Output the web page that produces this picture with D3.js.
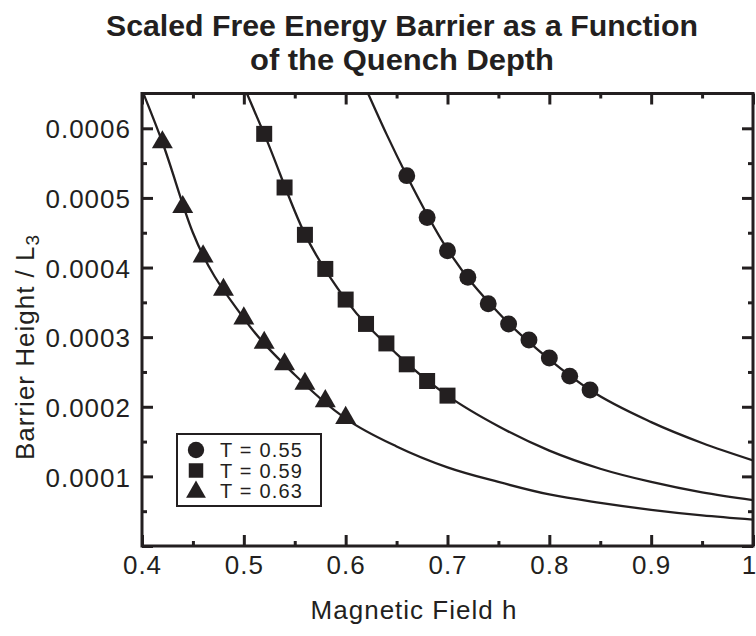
<!DOCTYPE html>
<html>
<head>
<meta charset="utf-8">
<script src="https://cdn.jsdelivr.net/npm/d3@7"></script>
<style>
  html, body { margin: 0; padding: 0; background: #ffffff; }
  svg { display: block; }
</style>
</head>
<body>
<div id="chart"></div>
<script>
// ---------------- data ----------------
const titleLines = ["Scaled Free Energy Barrier as a Function", "of the Quench Depth"];
const xLabel = "Magnetic Field h";
const yLabelMain = "Barrier Height / L";
const yLabelSub = "3";

const seriesNames = ["T = 0.55", "T = 0.59", "T = 0.63"];

// measured points
const hT055 = [0.66, 0.68, 0.70, 0.72, 0.74, 0.76, 0.78, 0.80, 0.82, 0.84];
const bT055 = [0.000532, 0.000472, 0.000424, 0.000386, 0.000348, 0.000319, 0.000296, 0.000270, 0.000244, 0.000224];

const hT059 = [0.52, 0.54, 0.56, 0.58, 0.60, 0.62, 0.64, 0.66, 0.68, 0.70];
const bT059 = [0.000592, 0.000515, 0.000447, 0.000398, 0.000354, 0.000319, 0.000291, 0.000261, 0.000237, 0.000216];

const hT063 = [0.42, 0.44, 0.46, 0.48, 0.50, 0.52, 0.54, 0.56, 0.58, 0.60];
const bT063 = [0.000580, 0.000487, 0.000416, 0.000368, 0.000327, 0.000292, 0.000261, 0.000233, 0.000208, 0.000184];

// fitted curves
const fitH055 = [0.622, 0.64, 0.66, 0.70, 0.75, 0.80, 0.84, 0.90, 0.95, 1.0];
const fitB055 = [0.00065, 0.000592, 0.000532, 0.000426, 0.000335, 0.000268, 0.000224, 0.000178, 0.000148, 0.000123];

const fitH059 = [0.503, 0.52, 0.56, 0.60, 0.65, 0.70, 0.75, 0.80, 0.85, 0.90, 0.95, 1.0];
const fitB059 = [0.00065, 0.000592, 0.000448, 0.000354, 0.000276, 0.000216, 0.000172, 0.000137, 0.000111, 0.000092, 0.000077, 0.000066];

const fitH063 = [0.40, 0.42, 0.45, 0.50, 0.55, 0.60, 0.65, 0.70, 0.75, 0.80, 0.85, 0.90, 0.95, 1.0];
const fitB063 = [0.000655, 0.000580, 0.000450, 0.000327, 0.000246, 0.000183, 0.000143, 0.000113, 0.000092, 0.000074, 0.000062, 0.000052, 0.000044, 0.000038];

// axis ticks
const xMajor = [0.4, 0.5, 0.6, 0.7, 0.8, 0.9, 1.0];
const xMinor = [0.45, 0.55, 0.65, 0.75, 0.85, 0.95];
const yMajor = [0, 0.0001, 0.0002, 0.0003, 0.0004, 0.0005, 0.0006];
const yMinor = [0.00005, 0.00015, 0.00025, 0.00035, 0.00045, 0.00055];
const yTickLabels = ["", "0.0001", "0.0002", "0.0003", "0.0004", "0.0005", "0.0006"];
const xTickLabels = ["0.4", "0.5", "0.6", "0.7", "0.8", "0.9", "1"];

// ---------------- layout ----------------
const W = 756, H = 636;
const INK = "#231f20";
const pL = 142, pR = 753, pT = 93.5, pB = 546;
const FONT = "'Liberation Sans', Arial, Helvetica, sans-serif";

const x = d3.scaleLinear().domain([0.4, 1.0]).range([pL, pR]);
const y = d3.scaleLinear().domain([0, 0.00065]).range([pB, pT]);

const svg = d3.select("#chart").append("svg")
  .attr("width", W).attr("height", H)
  .attr("viewBox", `0 0 ${W} ${H}`);

// title
const titleG = svg.append("g")
  .attr("font-family", "'Liberation Sans Narrow', 'Liberation Sans', Arial, sans-serif")
  .attr("font-weight", "bold")
  .attr("font-size", 29)
  .attr("fill", INK)
  .attr("text-anchor", "middle");
const titleY = [36, 70];
const titleW = [592, 304];
titleLines.forEach((t, i) => {
  titleG.append("text")
    .attr("x", 402).attr("y", titleY[i])
    .attr("textLength", titleW[i])
    .attr("lengthAdjust", "spacingAndGlyphs")
    .text(t);
});

// clip
svg.append("defs").append("clipPath").attr("id", "plotclip")
  .append("rect").attr("x", pL).attr("y", pT)
  .attr("width", pR - pL).attr("height", pB - pT);

// axes helpers
function styleAxis(g) {
  g.select(".domain").remove();
  g.selectAll(".tick line").attr("stroke", INK).attr("stroke-width", 3);
  g.selectAll("text").attr("font-family", FONT).attr("font-size", 26)
    .attr("fill", INK).attr("letter-spacing", "1px");
}

// bottom major
const xAx = svg.append("g").attr("transform", `translate(0,${pB})`)
  .call(d3.axisBottom(x).tickValues(xMajor).tickSize(-11).tickPadding(10)
        .tickFormat((d, i) => xTickLabels[i]))
  .call(styleAxis);
xAx.selectAll(".tick text").filter(d => d === 1.0).attr("dx", -4);
// bottom minor
svg.append("g").attr("transform", `translate(0,${pB})`)
  .call(d3.axisBottom(x).tickValues(xMinor).tickSize(-5).tickFormat(""))
  .call(styleAxis);
// top
svg.append("g").attr("transform", `translate(0,${pT})`)
  .call(d3.axisTop(x).tickValues(xMajor).tickSize(-11).tickFormat(""))
  .call(styleAxis);
svg.append("g").attr("transform", `translate(0,${pT})`)
  .call(d3.axisTop(x).tickValues(xMinor).tickSize(-5).tickFormat(""))
  .call(styleAxis);
// left
const yAx = svg.append("g").attr("transform", `translate(${pL},0)`)
  .call(d3.axisLeft(y).tickValues(yMajor).tickSize(-11).tickPadding(11)
        .tickFormat((d, i) => yTickLabels[i]))
  .call(styleAxis);
yAx.selectAll("text").attr("dy", "0.37em");
svg.append("g").attr("transform", `translate(${pL},0)`)
  .call(d3.axisLeft(y).tickValues(yMinor).tickSize(-5).tickFormat(""))
  .call(styleAxis);
// right
svg.append("g").attr("transform", `translate(${pR},0)`)
  .call(d3.axisRight(y).tickValues(yMajor).tickSize(-11).tickFormat(""))
  .call(styleAxis);
svg.append("g").attr("transform", `translate(${pR},0)`)
  .call(d3.axisRight(y).tickValues(yMinor).tickSize(-5).tickFormat(""))
  .call(styleAxis);

// frame
svg.append("rect")
  .attr("x", pL).attr("y", pT)
  .attr("width", pR - pL).attr("height", pB - pT)
  .attr("fill", "none").attr("stroke", INK).attr("stroke-width", 3);

// axis titles
svg.append("text")
  .attr("x", 414).attr("y", 619)
  .attr("text-anchor", "middle")
  .attr("font-family", FONT).attr("font-size", 26).attr("letter-spacing", "1px")
  .attr("fill", INK)
  .text(xLabel);

const yl = svg.append("text")
  .attr("transform", "translate(34,460) rotate(-90)")
  .attr("text-anchor", "start")
  .attr("font-family", FONT).attr("font-size", 26).attr("letter-spacing", "1px")
  .attr("fill", INK);
yl.append("tspan").text(yLabelMain);
yl.append("tspan").attr("font-size", 19).attr("dy", 5).text(yLabelSub);

// curves
const line = d3.line()
  .x(d => x(d[0])).y(d => y(d[1]))
  .curve(d3.curveMonotoneX);
const fits = [
  d3.zip(fitH055, fitB055),
  d3.zip(fitH059, fitB059),
  d3.zip(fitH063, fitB063)
];
svg.append("g").attr("clip-path", "url(#plotclip)")
  .selectAll("path").data(fits).join("path")
  .attr("d", line)
  .attr("fill", "none").attr("stroke", INK).attr("stroke-width", 2.3);

// markers
const symbols = [d3.symbolCircle, d3.symbolSquare, d3.symbolTriangle];
const symSizes = [225, 256, 190];
const pts = [
  d3.zip(hT055, bT055),
  d3.zip(hT059, bT059),
  d3.zip(hT063, bT063)
];
pts.forEach((p, i) => {
  svg.append("g").selectAll("path").data(p).join("path")
    .attr("transform", d => `translate(${x(d[0])},${y(d[1])})`)
    .attr("d", d3.symbol().type(symbols[i]).size(symSizes[i]))
    .attr("fill", INK);
});

// legend
const lg = svg.append("g");
lg.append("rect")
  .attr("x", 177).attr("y", 434).attr("width", 144).attr("height", 72)
  .attr("fill", "#ffffff").attr("stroke", INK).attr("stroke-width", 2);
const legSizes = [210, 210, 170];
const legRowY = [450, 470.5, 491];
seriesNames.forEach((name, i) => {
  lg.append("path")
    .attr("transform", `translate(196,${legRowY[i] + (i === 2 ? 1 : 0)})`)
    .attr("d", d3.symbol().type(symbols[i]).size(legSizes[i]))
    .attr("fill", INK);
  lg.append("text")
    .attr("x", 220).attr("y", legRowY[i] + 7.3)
    .attr("font-family", FONT).attr("font-size", 20).attr("letter-spacing", "1.2px")
    .attr("fill", INK)
    .text(name);
});
</script>
</body>
</html>
